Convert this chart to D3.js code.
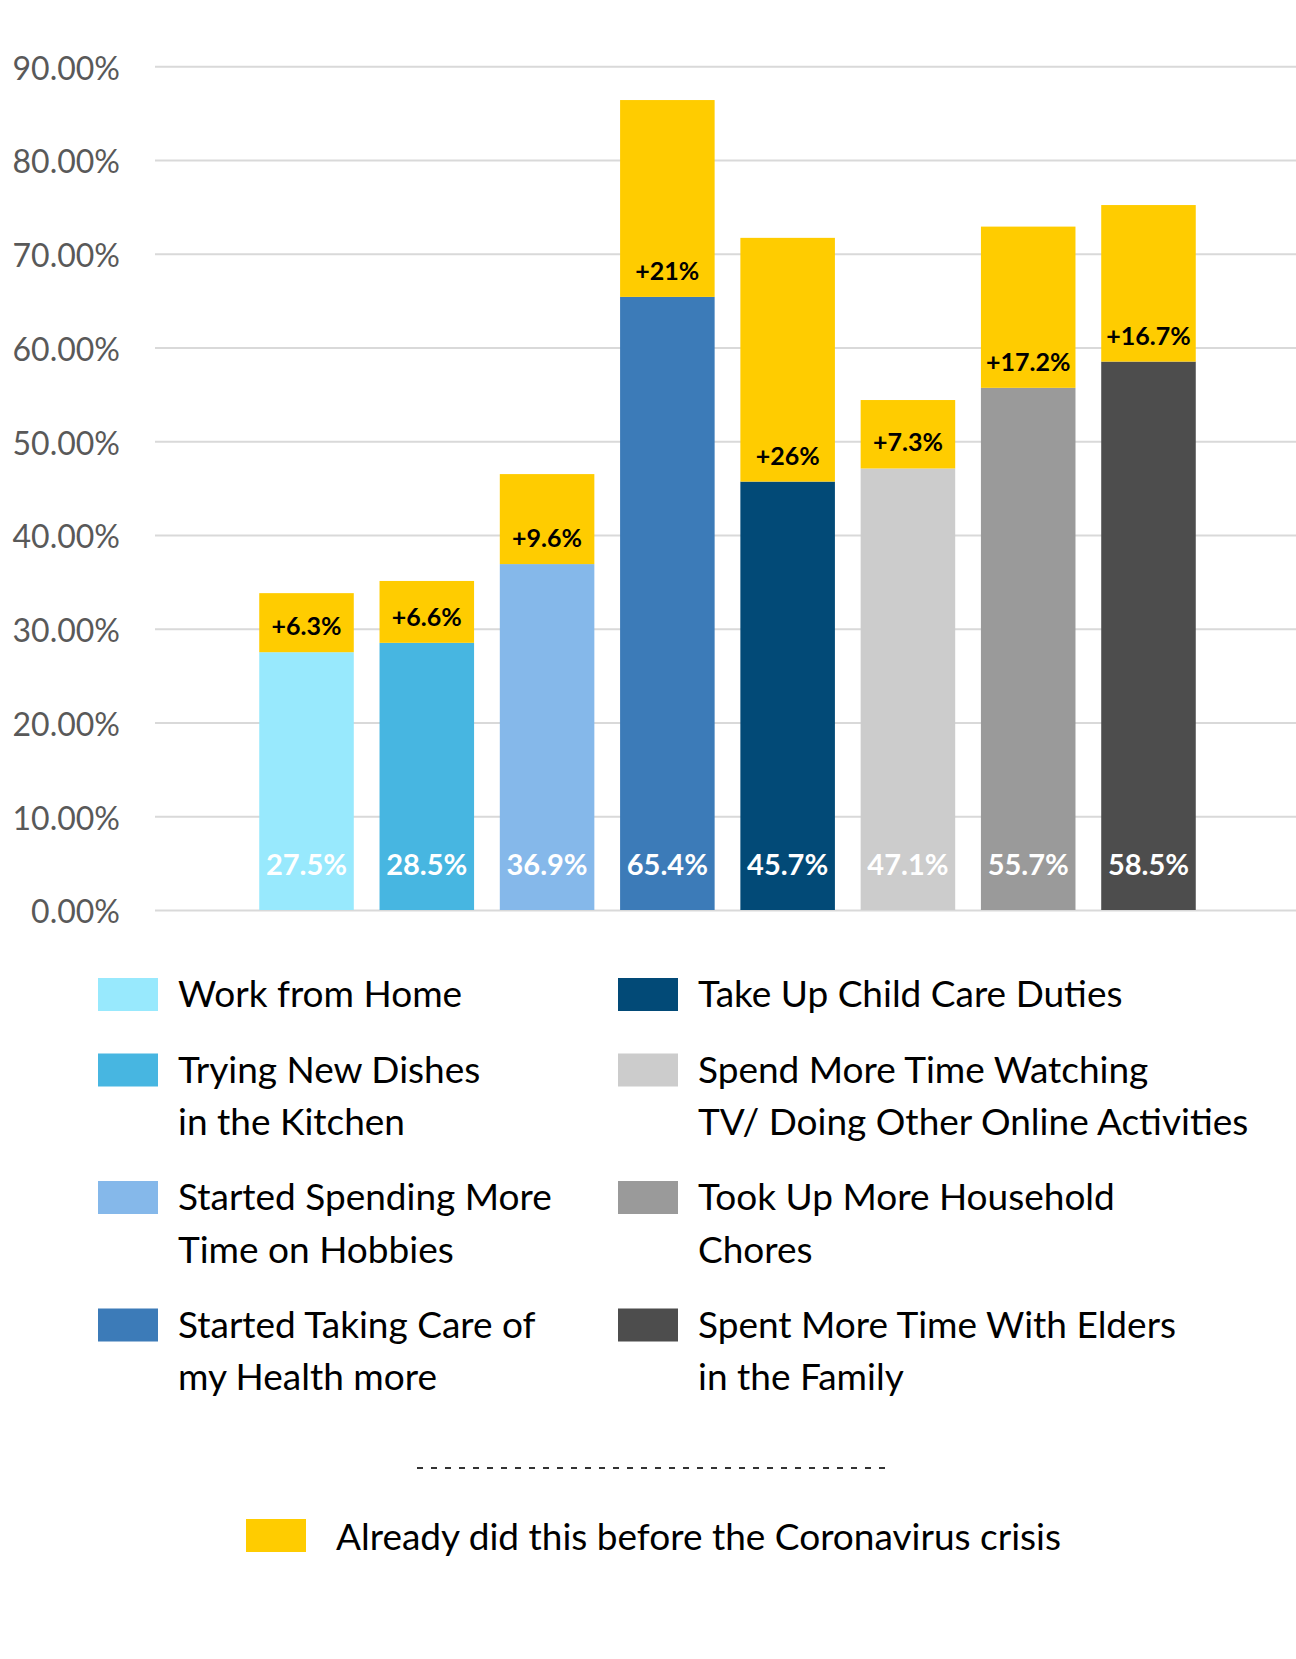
<!DOCTYPE html>
<html>
<head>
<script src="https://cdnjs.cloudflare.com/ajax/libs/d3/7.8.5/d3.min.js"></script>
<style>
  body { margin: 0; background: #fff; }
  svg text { font-family: Lato, "Open Sans", sans-serif; }
  .y-axis .tick line { stroke: #d9d9d9; stroke-width: 2px; }
  .y-axis .tick text { fill: #595959; font-size: 32px; }
  .y-axis .domain { display: none; }
</style>
</head>
<body>
<div id="chart"></div>
<script>
// categories ("|" marks the legend line break)
const categories = [
  "Work from Home",
  "Trying New Dishes|in the Kitchen",
  "Started Spending More|Time on Hobbies",
  "Started Taking Care of|my Health more",
  "Take Up Child Care Duties",
  "Spend More Time Watching|TV/ Doing Other Online Activities",
  "Took Up More Household|Chores",
  "Spent More Time With Elders|in the Family"
];
const sinceCrisis = [27.5, 28.5, 36.9, 65.4, 45.7, 47.1, 55.7, 58.5];
const alreadyBefore = [6.3, 6.6, 9.6, 21, 26, 7.3, 17.2, 16.7];
const barColors = ["#98e9fd", "#47b6e1", "#85b8ea", "#3c7bb8", "#024a77", "#cccccc", "#9a9a9a", "#4d4d4d"];
const yellow = "#ffcc00";
const yTicks = [0, 10, 20, 30, 40, 50, 60, 70, 80, 90];
const beforeLabel = "Already did this before the Coronavirus crisis";

const width = 1296, height = 1659;
const svg = d3.select("#chart").append("svg")
  .attr("width", width).attr("height", height);

const x = d3.scaleBand()
  .domain(categories)
  .range([157, 1298])
  .paddingInner(0.214)
  .paddingOuter(0.85);

const y = d3.scaleLinear().domain([0, 90]).range([910, 66.3]);

// gridlines + tick labels
svg.append("g")
  .attr("class", "y-axis")
  .attr("transform", "translate(155,0)")
  .call(d3.axisLeft(y)
    .tickValues(yTicks)
    .tickFormat(d => d.toFixed(2) + "%")
    .tickSize(-(width - 155))
    .tickPadding(35))
  .selectAll(".tick text").attr("dy", "0.4em");

const rows = categories.map((c, i) => ({
  cat: c, base: sinceCrisis[i], extra: alreadyBefore[i], color: barColors[i]
}));

const bars = svg.append("g").selectAll("g")
  .data(rows).enter().append("g");

bars.append("rect")
  .attr("x", d => x(d.cat))
  .attr("width", x.bandwidth())
  .attr("y", d => y(d.base))
  .attr("height", d => y(0) - y(d.base))
  .attr("fill", d => d.color);

bars.append("rect")
  .attr("x", d => x(d.cat))
  .attr("width", x.bandwidth())
  .attr("y", d => y(d.base + d.extra))
  .attr("height", d => y(d.base) - y(d.base + d.extra))
  .attr("fill", yellow);

bars.append("text")
  .attr("x", d => x(d.cat) + x.bandwidth() / 2)
  .attr("y", y(0) - 35)
  .attr("text-anchor", "middle")
  .attr("fill", "#fff")
  .attr("font-size", 29)
  .attr("font-weight", 700)
  .text(d => d.base + "%");

bars.append("text")
  .attr("x", d => x(d.cat) + x.bandwidth() / 2)
  .attr("y", d => y(d.base) - 17)
  .attr("text-anchor", "middle")
  .attr("fill", "#000")
  .attr("font-size", 25)
  .attr("font-weight", 700)
  .text(d => "+" + d.extra + "%");

// legend, two columns of four
const legend = svg.append("g");
const colX = [98, 618];
let baseline = 1007;
for (let r = 0; r < 4; r++) {
  const pair = [rows[r], rows[r + 4]];
  let maxLines = 1;
  pair.forEach((d, c) => {
    const lines = d.cat.split("|");
    maxLines = Math.max(maxLines, lines.length);
    legend.append("rect")
      .attr("x", colX[c]).attr("y", baseline - 29)
      .attr("width", 60).attr("height", 33)
      .attr("fill", d.color);
    const t = legend.append("text")
      .attr("x", colX[c] + 80).attr("y", baseline)
      .attr("font-size", 37).attr("fill", "#000");
    lines.forEach((ln, k) => {
      t.append("tspan").attr("x", colX[c] + 80).attr("dy", k ? 52.5 : 0).text(ln);
    });
  });
  baseline += 75.5 + (maxLines - 1) * 52;
}

// dotted separator
legend.append("line")
  .attr("x1", 417).attr("x2", 892)
  .attr("y1", 1468).attr("y2", 1468)
  .attr("stroke", "#333").attr("stroke-width", 2)
  .attr("stroke-dasharray", "6 8");

legend.append("rect")
  .attr("x", 246).attr("y", 1519)
  .attr("width", 60).attr("height", 33)
  .attr("fill", yellow);
legend.append("text")
  .attr("x", 336).attr("y", 1550)
  .attr("font-size", 37).attr("fill", "#000")
  .text(beforeLabel);
</script>
</body>
</html>
